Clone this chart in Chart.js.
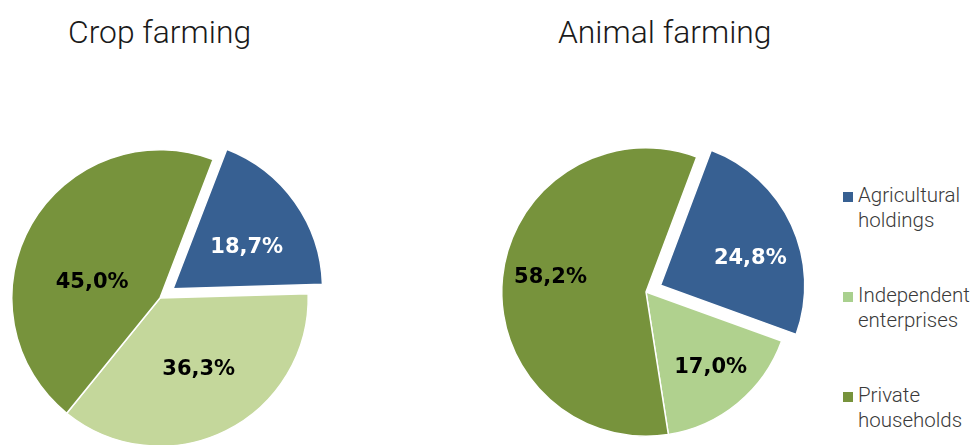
<!DOCTYPE html>
<html>
<head>
<meta charset="utf-8">
<script src="https://cdn.jsdelivr.net/npm/chart.js@4/dist/chart.umd.min.js"></script>
<style>
  html, body { margin: 0; padding: 0; background: #fff; overflow: hidden; }
  body { width: 979px; height: 445px; position: relative; font-family: Roboto, "Open Sans", sans-serif; }
  .title { position: absolute; top: 13px; font-size: 31.8px; font-weight: 300; line-height: 38px; color: #1a1a1a; white-space: nowrap; }
  .pie { position: absolute; }
  #cropWrap { left: -21px; top: 117px; width: 362px; height: 362px; }
  #animalWrap { left: 469px; top: 115px; width: 354px; height: 354px; }
  #legend { position: absolute; left: 843px; top: 184px; }
  .item { position: relative; height: 100px; }
  .swatch { position: absolute; left: 0; top: 8px; width: 10px; height: 10px; }
  .label { position: absolute; left: 15px; top: -1px; font-size: 20.5px; font-weight: 300; line-height: 25px; color: #3a3a3a; white-space: nowrap; }
</style>
</head>
<body>
<div class="title" id="cropTitle" style="left:68px"></div>
<div class="title" id="animalTitle" style="left:558px"></div>
<div class="pie" id="cropWrap"><canvas id="cropChart"></canvas></div>
<div class="pie" id="animalWrap"><canvas id="animalChart"></canvas></div>
<div id="legend"></div>
<script>
// categories and shares (%)
const categories = [['Agricultural', 'holdings'], ['Independent', 'enterprises'], ['Private', 'households']];
const cropTitle = 'Crop farming';
const animalTitle = 'Animal farming';
const cropShares = [18.7, 36.3, 45.0];
const animalShares = [24.8, 17.0, 58.2];

const blue = '#376092';
const darkGreen = '#77933c';
const cropColors = [blue, '#c4d79b', darkGreen];
const animalColors = [blue, '#b0d18e', darkGreen];
const legendColors = [blue, '#a9d08e', darkGreen];

document.getElementById('cropTitle').textContent = cropTitle;
document.getElementById('animalTitle').textContent = animalTitle;

// legend built from the category list
const legend = document.getElementById('legend');
categories.forEach((lines, i) => {
  const item = document.createElement('div');
  item.className = 'item';
  item.innerHTML = `<div class="swatch" style="background:${legendColors[i]}"></div>` +
    `<div class="label">${lines.join('<br>')}</div>`;
  legend.appendChild(item);
});

const fmt = v => v.toFixed(1).replace('.', ',') + '%';

// percentage text inside each slice
const sliceLabels = {
  id: 'sliceLabels',
  afterDatasetsDraw(chart, args, opts) {
    const ctx = chart.ctx;
    const meta = chart.getDatasetMeta(0);
    const values = chart.data.datasets[0].data;
    ctx.save();
    ctx.font = 'bold 21px "DejaVu Sans", Verdana, sans-serif';
    ctx.textAlign = 'center';
    ctx.textBaseline = 'middle';
    meta.data.forEach((arc, i) => {
      const p = arc.getProps(['x', 'y', 'startAngle', 'endAngle', 'outerRadius'], true);
      const mid = (p.startAngle + p.endAngle) / 2;
      // the arc element shifts an exploded slice by a quarter of its offset
      const shift = (arc.options.offset || 0) / 4;
      const ox = p.x + Math.cos(mid) * shift;
      const oy = p.y + Math.sin(mid) * shift;
      const a = mid + opts.angleShift[i] * Math.PI / 180;
      const d = p.outerRadius * opts.radius[i];
      ctx.fillStyle = opts.colors[i];
      ctx.fillText(fmt(values[i]), ox + Math.cos(a) * d, oy + Math.sin(a) * d);
    });
    ctx.restore();
  }
};

function makePie(id, shares, colors, rotation, labelRadius, labelShift) {
  return new Chart(document.getElementById(id), {
    type: 'pie',
    data: {
      labels: categories.map(c => c.join(' ')),
      datasets: [{
        data: shares,
        backgroundColor: colors,
        borderColor: '#fff',
        borderWidth: 1.5,
        hoverBorderWidth: 1.5,
        offset: [64, 0, 0],
        hoverOffset: 0
      }]
    },
    options: {
      responsive: true,
      maintainAspectRatio: false,
      animation: false,
      events: [],
      rotation: rotation,
      layout: { padding: 0 },
      plugins: {
        legend: { display: false },
        tooltip: { enabled: false },
        sliceLabels: { radius: labelRadius, angleShift: labelShift, colors: ['#fff', '#000', '#000'] }
      }
    },
    plugins: [sliceLabels]
  });
}

makePie('cropChart', cropShares, cropColors, 21, [0.57, 0.55, 0.47], [6, -2, -17]);
makePie('animalChart', animalShares, animalColors, 20.6, [0.65, 0.69, 0.67], [8, -1, 3]);
</script>
</body>
</html>
